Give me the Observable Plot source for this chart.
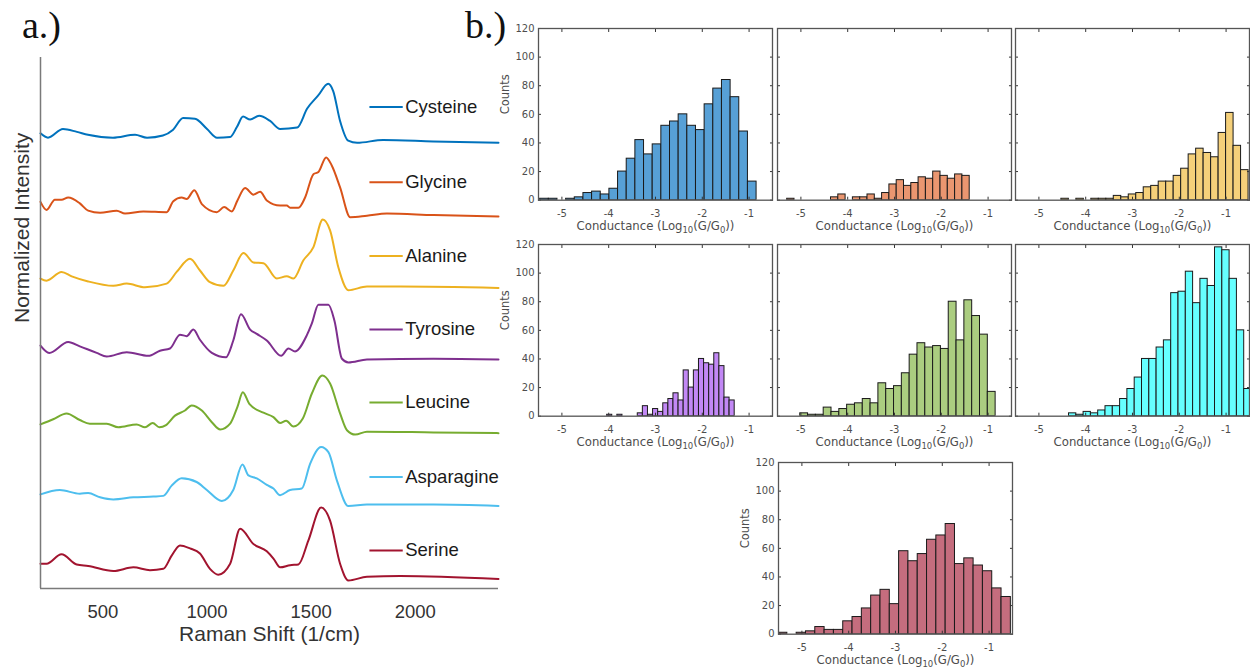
<!DOCTYPE html>
<html><head><meta charset="utf-8">
<script src="https://cdn.jsdelivr.net/npm/d3@7"></script>
<script src="https://cdn.jsdelivr.net/npm/@observablehq/plot@0.6"></script>
<style>
html,body{margin:0;padding:0;background:#fff;width:1250px;height:672px;overflow:hidden;}
#root{position:relative;width:1250px;height:672px;}
.pnl{position:absolute;}
.tag{position:absolute;font-family:"Liberation Serif","Times New Roman",serif;font-size:38px;line-height:38px;color:#111;}
</style></head><body><div id="root"></div>
<script>
// ---------- Panel a: Raman spectra ----------
const aminoAcids = ["Cysteine","Glycine","Alanine","Tyrosine","Leucine","Asparagine","Serine"];
const lineColors = ["#0072BD","#D95319","#EDB120","#7E2F8E","#77AC30","#4DBEEE","#A2142F"];
const barColors  = ["#57a0d6","#ea9670","#f5d07a","#c288f5","#abcd80","#66ffff","#c56d7e"];
const spectrumOffsets = [6,5,4,3,2,1,0];
const ramanTicks = [500,1000,1500,2000];

const cysteineShift = [200,236,308,375,428,548,654,712,788,837,885,942,1000,1048,1111,1144,1173,1207,1250,1303,1351,1433,1481,1534,1582,1606,1639,1678,1721,1846,2087,2400];
const cysteineIntensity = [0.11,0.05,0.17,0.13,0.09,0.05,0.09,0.05,0.08,0.16,0.32,0.31,0.17,0.05,0.06,0.20,0.34,0.30,0.35,0.28,0.17,0.19,0.45,0.63,0.79,0.69,0.28,0.01,-0.02,0.02,0.0,-0.02];
const glycineShift = [200,229,269,301,333,389,429,486,566,606,694,806,838,878,902,939,975,1047,1082,1119,1146,1183,1223,1255,1287,1351,1383,1399,1439,1471,1511,1535,1572,1599,1639,1688,1768,1864,2088,2400];
const glycineIntensity = [0.17,0.06,0.20,0.20,0.23,0.15,0.05,0.02,0.05,0.01,0.04,0.03,0.18,0.23,0.21,0.33,0.14,0.03,0.10,0.04,0.19,0.36,0.27,0.31,0.19,0.12,0.12,0.09,0.09,0.23,0.55,0.58,0.78,0.67,0.37,-0.04,-0.02,0.01,-0.01,-0.03];
const alanineShift = [200,229,301,350,429,550,614,702,806,854,918,966,1014,1079,1126,1175,1223,1271,1335,1383,1415,1463,1511,1556,1591,1631,1679,1768,1928,2400];
const alanineIntensity = [0.12,0.09,0.21,0.15,0.08,0.02,0.05,0.0,0.05,0.21,0.39,0.23,0.07,0.02,0.23,0.47,0.34,0.33,0.12,0.15,0.12,0.37,0.55,0.93,0.78,0.27,-0.04,0.01,0.01,-0.01];
const tyrosineShift = [200,242,333,389,470,518,614,718,774,822,870,902,934,966,1023,1091,1126,1163,1207,1239,1287,1356,1391,1423,1479,1503,1535,1583,1612,1648,1679,1768,2088,2400];
const tyrosineIntensity = [0.20,0.10,0.25,0.19,0.10,0.05,0.11,0.06,0.13,0.16,0.35,0.33,0.42,0.28,0.10,0.04,0.27,0.63,0.42,0.36,0.27,0.06,0.16,0.12,0.34,0.50,0.76,0.76,0.54,0.02,-0.03,0.01,0.02,0.01];
const leucineShift = [200,261,325,389,437,518,574,662,702,739,771,803,846,894,926,975,1023,1063,1111,1146,1172,1203,1271,1319,1351,1380,1415,1460,1503,1554,1591,1639,1672,1712,1768,2088,2400];
const leucineIntensity = [0.12,0.19,0.27,0.18,0.13,0.13,0.08,0.12,0.08,0.14,0.08,0.11,0.24,0.31,0.38,0.31,0.15,0.05,0.13,0.36,0.56,0.40,0.28,0.22,0.14,0.17,0.09,0.20,0.54,0.79,0.68,0.27,0.04,-0.02,0.02,0.01,0.0];
const asparagineShift = [200,293,389,429,486,550,646,742,790,830,878,950,999,1071,1126,1170,1199,1239,1287,1319,1351,1399,1455,1495,1548,1583,1624,1679,1768,2088,2400];
const asparagineIntensity = [0.16,0.22,0.17,0.18,0.12,0.09,0.12,0.13,0.14,0.28,0.38,0.33,0.22,0.07,0.22,0.57,0.42,0.38,0.29,0.24,0.15,0.22,0.24,0.58,0.81,0.74,0.35,0.0,0.02,0.02,0.0];
const serineShift = [200,229,301,374,429,550,646,726,790,830,870,918,966,1014,1054,1111,1159,1223,1287,1319,1351,1399,1439,1487,1548,1591,1639,1679,1768,1928,2400];
const serineIntensity = [0.21,0.21,0.34,0.20,0.18,0.11,0.16,0.12,0.14,0.32,0.46,0.42,0.35,0.14,0.06,0.21,0.69,0.48,0.38,0.28,0.16,0.19,0.20,0.53,0.98,0.80,0.21,-0.02,0.03,0.04,0.0];

// ---------- Panel b: conductance histograms (25 bins each) ----------
const conductanceTicks = [-5,-4,-3,-2,-1];
const countTicks = [0,20,40,60,80,100,120];
const binStarts = [-5.465,-5.293,-4.52,-4.033,-5.014,-4.357,-5.51];
const binWidths = [0.185,0.156,0.16,0.109,0.167,0.156,0.199];
const cysteineCounts   = [1,1,0,1,2,5,6,4,8,20,29,42,32,39,52,55,60,52,49,67,78,84,72,48,13];
const glycineCounts    = [1,0,0,0,0,0,2,4,0,2,2,4,1,5,11,14,10,12,16,15,20,17,15,18,17];
const alanineCounts    = [1,0,1,0,1,1,1,3,2,4,5,9,10,13,13,17,22,32,36,33,30,47,61,38,21];
const tyrosineCounts   = [1,0,1,0,0,0,2,7,1,5,3,9,12,16,11,32,20,32,40,37,36,44,35,13,11];
const leucineCounts    = [2,1,1,6,3,5,8,9,12,9,23,19,21,30,43,51,48,49,47,80,53,81,70,57,17];
const asparagineCounts = [2,1,3,2,4,7,7,12,19,27,40,40,48,53,86,87,101,79,96,91,118,116,96,60,19];
const serineCounts     = [1,0,1,2,5,3,3,9,12,18,27,31,21,58,51,56,66,69,77,49,53,48,44,32,26];
const conductanceLabel = "Conductance (Log10(G/G0))";

// ---------- layout ----------
const root = document.getElementById("root");
const plainNumber = d => String(d);
const shifts = [cysteineShift,glycineShift,alanineShift,tyrosineShift,leucineShift,asparagineShift,serineShift];
const intensities = [cysteineIntensity,glycineIntensity,alanineIntensity,tyrosineIntensity,leucineIntensity,asparagineIntensity,serineIntensity];
const xDomainA = [200, 2400];
const yDomainA = [-0.13, 7.15];
const legendLineX = [1780, 1940];
const legendTextX = 1952;
const legendLift = [0.47,0.44,0.43,0.42,0.42,0.40,0.39];

const specMarks = [];
aminoAcids.forEach((name, i) => {
  const pts = shifts[i].map((s, j) => ({shift: s, value: intensities[i][j] + spectrumOffsets[i]}));
  specMarks.push(Plot.line(pts, {x: "shift", y: "value", stroke: lineColors[i], strokeWidth: 2, curve: "monotone-x"}));
  const row = [{name, y: spectrumOffsets[i] + legendLift[i]}];
  specMarks.push(Plot.link(row, {x1: () => legendLineX[0], x2: () => legendLineX[1], y1: "y", y2: "y", stroke: lineColors[i], strokeWidth: 2}));
  specMarks.push(Plot.text(row, {x: () => legendTextX, y: "y", text: "name", textAnchor: "start", fontSize: 18.5, fill: "#1a1a1a"}));
});

const plotA = Plot.plot({
  width: 520, height: 672,
  marginLeft: 40, marginRight: 22, marginTop: 57, marginBottom: 84,
  style: {fontFamily: "'Liberation Sans', Arial, sans-serif", color: "#262626", background: "transparent", overflow: "visible"},
  x: {domain: xDomainA, axis: null},
  y: {domain: yDomainA, axis: null},
  marks: [
    ...specMarks,
    Plot.ruleX([xDomainA[0]], {stroke: "#7a7a7a", strokeWidth: 1.5}),
    Plot.ruleY([yDomainA[0]], {stroke: "#7a7a7a", strokeWidth: 1.5}),
    Plot.axisX({ticks: ramanTicks, tickFormat: plainNumber, tickSize: 0, tickPadding: 16, fontSize: 18.5, label: null, fill: "#333"}),
    Plot.text(["Raman Shift (1/cm)"], {frameAnchor: "bottom", dy: 52, fontSize: 21, fill: "#333"}),
    Plot.text(["Normalized Intensity"], {frameAnchor: "left", dx: -18, rotate: -90, fontSize: 21, fill: "#333"})
  ]
});
plotA.classList.add("pnl");
plotA.style.left = "0px"; plotA.style.top = "0px";
root.appendChild(plotA);

// histogram panels
const allCounts = [cysteineCounts,glycineCounts,alanineCounts,tyrosineCounts,leucineCounts,asparagineCounts,serineCounts];
const frames = [[538.3,28.3],[776.7,28.3],[1015,28.3],[538.3,244],[776.7,244],[1015,244],[778.3,462.3]];
const withYLabels = [true,false,false,true,false,false,true];
const FW = 234, FH = 171.7, ML = 42, MR = 2, MT = 4, MB = 42;

allCounts.forEach((counts, i) => {
  const bins = counts.map((c, j) => ({x1: binStarts[i] + j*binWidths[i], x2: binStarts[i] + (j+1)*binWidths[i], c}));
  const marks = [
    Plot.rectY(bins, {x1: "x1", x2: "x2", y: "c", fill: barColors[i], stroke: "#1a1a1a", strokeWidth: 1, clip: true}),
    Plot.axisX({anchor: "bottom", ticks: conductanceTicks, tickFormat: plainNumber, tickSize: 0, tickPadding: 10, fontSize: 10, label: null, fill: "#4d4d4d"}),
    Plot.axisX({anchor: "bottom", ticks: conductanceTicks, tickSize: -3, fill: "none", label: null, stroke: "#333"}),
    Plot.axisX({anchor: "top", ticks: conductanceTicks, tickSize: -3, fill: "none", label: null, stroke: "#333"}),
    Plot.axisY({anchor: "left", ticks: countTicks, tickSize: -3, fill: "none", label: null, stroke: "#333"}),
    Plot.axisY({anchor: "right", ticks: countTicks, tickSize: -3, fill: "none", label: null, stroke: "#333"}),
    Plot.text([conductanceLabel], {frameAnchor: "bottom", dy: 30, fontSize: 11.7, fill: "#4d4d4d"}),
    Plot.frame({stroke: "#555", strokeWidth: 1.3})
  ];
  if (withYLabels[i]) {
    marks.push(Plot.axisY({anchor: "left", ticks: countTicks, tickFormat: plainNumber, tickSize: 0, tickPadding: 4, fontSize: 10, label: null, fill: "#4d4d4d"}));
    marks.push(Plot.text(["Counts"], {frameAnchor: "left", dx: -33, rotate: -90, fontSize: 11.5, fill: "#4d4d4d"}));
  }
  const p = Plot.plot({
    width: FW + ML + MR, height: FH + MT + MB,
    marginLeft: ML, marginRight: MR, marginTop: MT, marginBottom: MB,
    style: {fontFamily: "'DejaVu Sans', sans-serif", color: "#4d4d4d", background: "transparent", overflow: "visible"},
    x: {domain: [-5.5, -0.5], axis: null},
    y: {domain: [0, 120], axis: null},
    marks
  });
  p.querySelectorAll("text").forEach(t => {
    if (t.textContent === conductanceLabel) {
      t.innerHTML = 'Conductance (Log<tspan dy="3" font-size="8.5">10</tspan><tspan dy="-3">(G/G</tspan><tspan dy="3" font-size="8.5">0</tspan><tspan dy="-3">))</tspan>';
    }
  });
  p.classList.add("pnl");
  p.style.left = (frames[i][0] - ML) + "px";
  p.style.top = (frames[i][1] - MT) + "px";
  root.appendChild(p);
});

// panel tags
[["a.)", 22, 6], ["b.)", 465, 6]].forEach(([t, x, y]) => {
  const d = document.createElement("div");
  d.className = "tag"; d.textContent = t;
  d.style.left = x + "px"; d.style.top = y + "px";
  root.appendChild(d);
});
</script>
</body></html>
